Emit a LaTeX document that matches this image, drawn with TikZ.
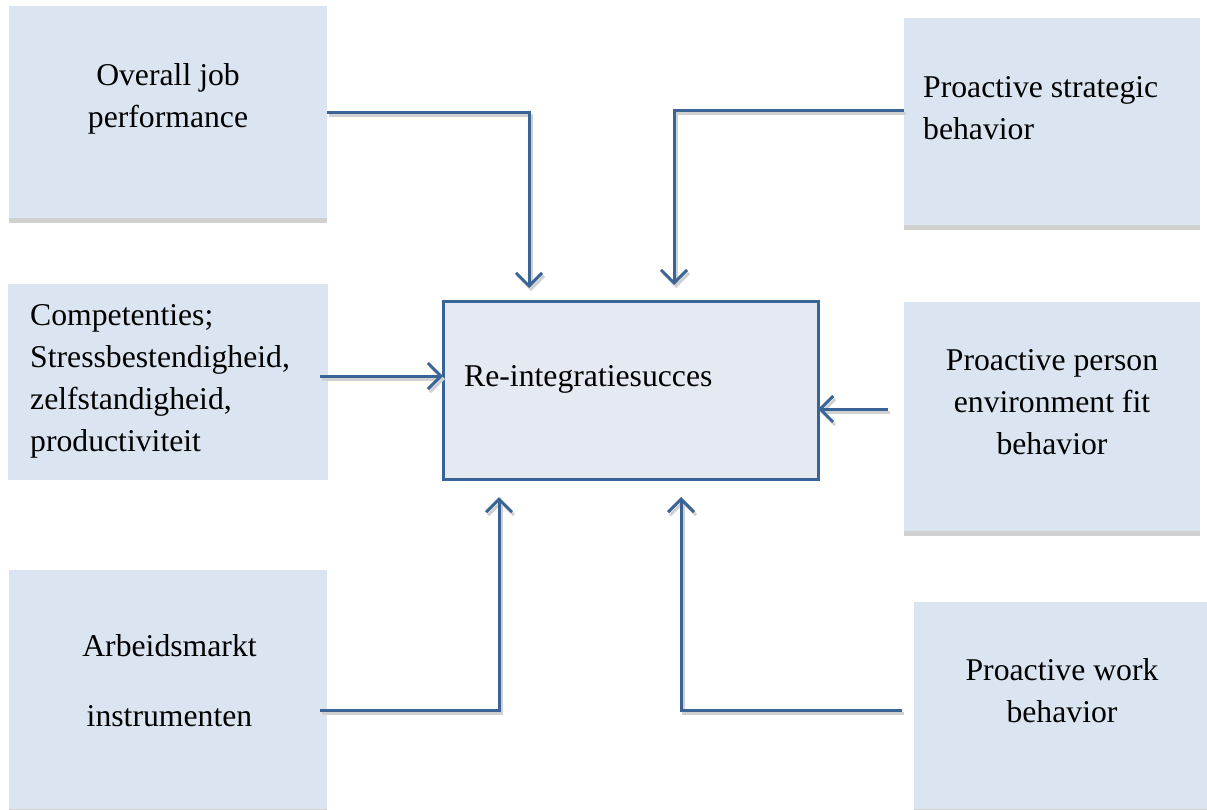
\documentclass[tikz,border=0pt]{standalone}
\usepackage{fontspec}
\setmainfont{Liberation Serif}
\usepackage{tikz}
\usetikzlibrary{arrows.meta,calc}

\definecolor{cardfill}{HTML}{DBE5F1}
\definecolor{corefill}{HTML}{E5EAF2}
\definecolor{linkblue}{HTML}{3A6496}
\definecolor{shade}{HTML}{D0D0D0}

\tikzset{
 flatcard/.style={fill=cardfill,inner sep=0pt,outer sep=0pt},
 card/.style={flatcard,preaction={fill=shade,transform canvas={yshift=-4.5pt}}},
 core/.style={draw=linkblue,line width=3pt,fill=corefill,inner sep=0pt,outer sep=0pt},
 txt/.style={inner sep=0pt,font=\fontsize{31.7}{42}\selectfont},
 link/.style={draw=linkblue,line width=3pt,-{Straight Barb[length=13pt,width=26pt]},
  preaction={draw=shade,line width=3pt,transform canvas={shift={(2pt,-3pt)}}}}
}

\begin{document}
\begin{tikzpicture}[x=1pt,y=-1pt]
 \useasboundingbox (0,0) rectangle (1207,809);
 % boxes
 \node[card,minimum width=318,minimum height=212] (job) at (168,112) {};
 \node[card,minimum width=296,minimum height=207] (strat) at (1052,121.5) {};
 \node[flatcard,minimum width=320,minimum height=196] (comp) at (168,382) {};
 \node[card,minimum width=296,minimum height=229] (pefit) at (1052,416.5) {};
 \node[card,minimum width=318,minimum height=239] (arb) at (168,689.5) {};
 \node[card,minimum width=293,minimum height=207] (work) at (1060.5,705.5) {};
 \node[core,minimum width=375,minimum height=178] (core) at (630.5,390) {};
 % texts
 \node[txt,align=center] (jobtxt) at (168,99) {Overall job\\performance};
 \node[txt,align=left,anchor=west] (strattxt) at (923,108.5) {Proactive strategic\\behavior};
 \node[txt,align=left,anchor=west] (comptxt) at (30,381) {Competenties;\\Stressbestendigheid,\\zelfstandigheid,\\productiviteit};
 \node[txt,align=center] (pefittxt) at (1052,402) {Proactive person\\environment fit\\behavior};
 \node[txt,align=center] (arbtxt) at (169.5,681) {Arbeidsmarkt\\[28pt]instrumenten};
 \node[txt,align=center] (worktxt) at (1062,691) {Proactive work\\behavior};
 \node[txt,anchor=west] (coretxt) at (464,379) {Re-integratiesucces};
 % arrows
 \draw[link,shorten >=13pt] (job.east) -| ($(core.north west)+(86,0)$);
 \draw[link,shorten >=16pt] ([yshift=11.5pt]strat.west) -| ($(core.north west)+(231,0)$);
 \draw[link] ([xshift=-8pt,yshift=6pt]comp.east) coordinate (c1) -- (c1 -| core.west);
 \draw[link] ([xshift=-16pt,yshift=7.5pt]pefit.west) coordinate (c2) -- (c2 -| core.east);
 \draw[link,shorten >=18pt] ([xshift=-7pt,yshift=-20.5pt]arb.east) -| ($(core.south west)+(56,0)$);
 \draw[link,shorten >=18pt] ([xshift=-12pt,yshift=-4.5pt]work.west) -| ($(core.south west)+(238,0)$);
\end{tikzpicture}
\end{document}
